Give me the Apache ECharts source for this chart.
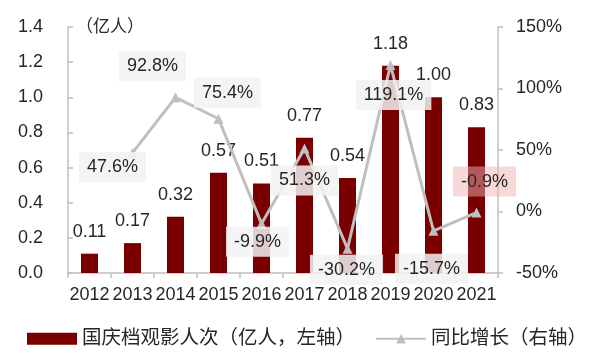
<!DOCTYPE html>
<html><head><meta charset="utf-8">
<script src="https://cdn.jsdelivr.net/npm/echarts@6/dist/echarts.min.js"></script>
<style>html,body{margin:0;padding:0;background:#fff}#c{width:604px;height:359px}</style>
</head><body><div id="c"></div>
<script>
var years = ['2012','2013','2014','2015','2016','2017','2018','2019','2020','2021'];
var attendance = [0.11,0.17,0.32,0.57,0.51,0.77,0.54,1.18,1.00,0.83];
var growth = [null,47.6,92.8,75.4,-9.9,51.3,-30.2,119.1,-15.7,-0.9];
var leftTicks = [0,0.2,0.4,0.6,0.8,1.0,1.2,1.4];
var rightTicks = [-50,0,50,100,150];
var labelOffsets = [null,[-20,14],[-23,-31],[9,-26],[-4,18],[0,32],[-1,21],[3,30],[-2,38],[8,-31]];

var FONT = 'Liberation Sans, Arial, Noto Sans CJK SC, sans-serif';
var TXT = '#262626';
var chart = echarts.init(document.getElementById('c'));
var lineData = growth.map(function(v,i){
  if(v===null) return {value:null};
  var o = {value:v, label:{offset:labelOffsets[i]}};
  if(i===9) o.label.backgroundColor='rgba(240,180,180,0.5)';
  return o;
});
chart.setOption({
  animation:false,
  textStyle:{fontFamily:FONT},
  grid:{left:68,right:106,top:27,bottom:86},
  legend:{
    top:324,left:22,itemGap:20,
    textStyle:{fontSize:19.5,color:TXT,fontFamily:FONT},
    data:[
      {name:'国庆档观影人次（亿人，左轴）',icon:'rect',itemStyle:{color:'#7A0000'}},
      {name:'同比增长（右轴）'}
    ],
    itemWidth:50,itemHeight:12
  },
  graphic:[{type:'text',x:76,y:27,style:{text:'（亿人）',font:'17px '+FONT,fill:TXT,textVerticalAlign:'middle'}}],
  xAxis:{
    type:'category',data:years,
    axisLine:{lineStyle:{color:'#BFBFBF',width:1.5}},
    axisTick:{show:true,length:5,lineStyle:{color:'#BFBFBF',width:1.5}},
    axisLabel:{interval:0,fontSize:18,color:TXT,margin:13,fontFamily:FONT}
  },
  yAxis:[
    {type:'value',min:0,max:1.4,interval:0.2,
     axisLine:{show:true,lineStyle:{color:'#BFBFBF',width:1.5}},
     axisTick:{show:true,inside:true,length:5,lineStyle:{color:'#BFBFBF',width:1.5}},
     splitLine:{show:false},
     axisLabel:{fontSize:18,color:TXT,margin:25,fontFamily:FONT,formatter:function(v){return v.toFixed(1);}}},
    {type:'value',min:-50,max:150,interval:50,position:'right',
     axisLine:{show:true,lineStyle:{color:'#BFBFBF',width:1.5}},
     axisTick:{show:true,length:5,lineStyle:{color:'#BFBFBF',width:1.5}},
     splitLine:{show:false},
     axisLabel:{fontSize:18,color:TXT,margin:18,fontFamily:FONT,formatter:'{value}%'}}
  ],
  series:[
    {name:'国庆档观影人次（亿人，左轴）',type:'bar',data:attendance,barWidth:17,
     itemStyle:{color:'#7A0000'},z:2,
     label:{show:true,position:'top',distance:13,fontSize:18,color:TXT,fontFamily:FONT,
            formatter:function(p){return p.value.toFixed(2);}}},
    {name:'同比增长（右轴）',type:'line',yAxisIndex:1,data:lineData,
     lineStyle:{color:'#BFBFBF',width:3},itemStyle:{color:'#BFBFBF'},
     symbol:'triangle',symbolSize:10,showSymbol:true,z:3,
     label:{show:true,position:'inside',fontSize:18,color:TXT,fontFamily:FONT,
            backgroundColor:'rgba(242,242,242,0.85)',padding:[7,8,5,8],
            formatter:function(p){return p.value.toFixed(1)+'%';}}}
  ]
});
</script></body></html>
